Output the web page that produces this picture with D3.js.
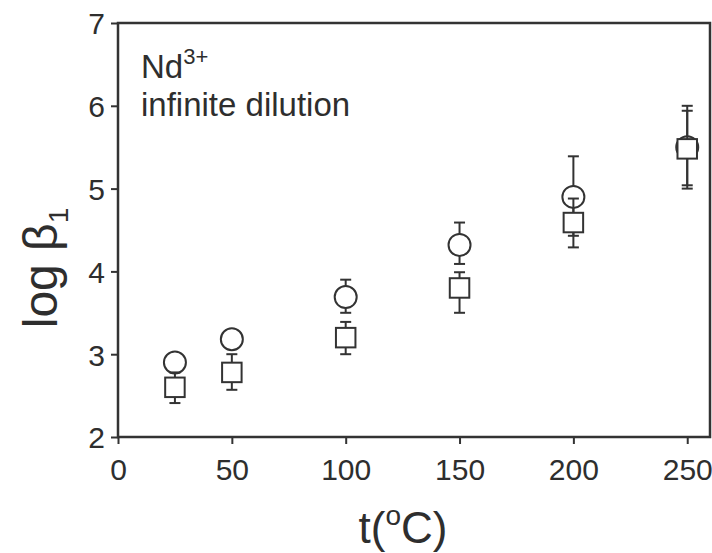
<!DOCTYPE html>
<html><head><meta charset="utf-8">
<script src="https://cdn.jsdelivr.net/npm/d3@7"></script>
<style>body{margin:0;background:#fff}svg{display:block}text{font-family:"Liberation Sans",Arial,sans-serif;fill:#2e2e2e}</style>
</head><body><svg id="c" width="712" height="553"></svg>
<script>
const temps = [25, 50, 100, 150, 200, 250];
const circleVals = [2.90, 3.18, 3.69, 4.32, 4.90, 5.50];
const circleLow  = [null, null, 3.50, 4.09, 4.43, 5.00];
const circleHigh = [null, null, 3.90, 4.59, 5.39, 6.00];
const squareVals = [2.60, 2.78, 3.20, 3.80, 4.59, 5.48];
const squareLow  = [2.41, 2.57, 3.00, 3.50, 4.29, 5.04];
const squareHigh = [2.78, 3.00, 3.39, 3.99, 4.88, 5.94];
const xTicks = [0, 50, 100, 150, 200, 250];
const yTicks = [2, 3, 4, 5, 6, 7];

const col = "#333";
const svg = d3.select("#c");
const L = 118, R = 710, T = 23, B = 437;
const x = d3.scaleLinear().domain([0, 260]).range([L, R]);
const y = d3.scaleLinear().domain([2, 7]).range([B, T]);

// axes
const xa = svg.append("g").attr("transform", `translate(0,${B})`)
  .call(d3.axisBottom(x).tickValues(xTicks).tickFormat(d3.format("d")).tickSize(7).tickPadding(15).tickSizeOuter(0));
const ya = svg.append("g").attr("transform", `translate(${L},0)`)
  .call(d3.axisLeft(y).tickValues(yTicks).tickFormat(d3.format("d")).tickSize(7).tickPadding(6).tickSizeOuter(0));
[xa, ya].forEach(a => {
  a.select(".domain").remove();
  a.selectAll("line").attr("stroke", col).attr("stroke-width", 2);
  a.selectAll("text").style("font-size", "30px").attr("fill", "#2e2e2e");
});
ya.selectAll("text").attr("dy", "0.36em");
// frame
svg.append("rect").attr("x", L).attr("y", T).attr("width", R - L).attr("height", B - T)
  .attr("fill", "none").attr("stroke", col).attr("stroke-width", 2.5);

const plot = svg.append("g");
function errbars(vals, lo, hi, cls) {
  const g = plot.append("g").attr("class", cls);
  temps.forEach((t, i) => {
    const cx = x(t);
    [lo[i], hi[i]].forEach(e => {
      if (e == null) return;
      g.append("line").attr("x1", cx).attr("x2", cx).attr("y1", y(vals[i])).attr("y2", y(e))
        .attr("stroke", col).attr("stroke-width", 2);
      g.append("line").attr("x1", cx - 5.5).attr("x2", cx + 5.5).attr("y1", y(e)).attr("y2", y(e))
        .attr("stroke", col).attr("stroke-width", 2);
    });
  });
}
// circles
errbars(circleVals, circleLow, circleHigh, "cerr");
plot.append("g").selectAll("circle").data(temps).join("circle")
  .attr("cx", d => x(d)).attr("cy", (d, i) => y(circleVals[i])).attr("r", 11)
  .attr("fill", "#fff").attr("stroke", col).attr("stroke-width", 2);
// squares
errbars(squareVals, squareLow, squareHigh, "serr");
plot.append("g").selectAll("rect").data(temps).join("rect")
  .attr("x", d => x(d) - 9.75).attr("y", (d, i) => y(squareVals[i]) - 9.75)
  .attr("width", 19.5).attr("height", 19.5)
  .attr("fill", "#fff").attr("stroke", col).attr("stroke-width", 2);

// annotation
const ann = svg.append("text").attr("x", 141).attr("y", 78).style("font-size", "33px");
ann.append("tspan").text("Nd");
ann.append("tspan").text("3+").attr("dy", -14).style("font-size", "22px");
svg.append("text").attr("x", 141).attr("y", 116).style("font-size", "33px").text("infinite dilution");

// axis titles
const xt = svg.append("text").attr("x", 403).attr("y", 543).attr("text-anchor", "middle").style("font-size", "44px");
xt.append("tspan").text("t(");
xt.append("tspan").text("o").attr("dy", -18).style("font-size", "28px");
xt.append("tspan").text("C)").attr("dy", 18);

const yt = svg.append("text").attr("transform", "translate(57,268) rotate(-90)").attr("text-anchor", "middle").style("font-size", "48px");
yt.append("tspan").text("log β");
yt.append("tspan").text("1").attr("dy", 11).style("font-size", "28px");
</script></body></html>
